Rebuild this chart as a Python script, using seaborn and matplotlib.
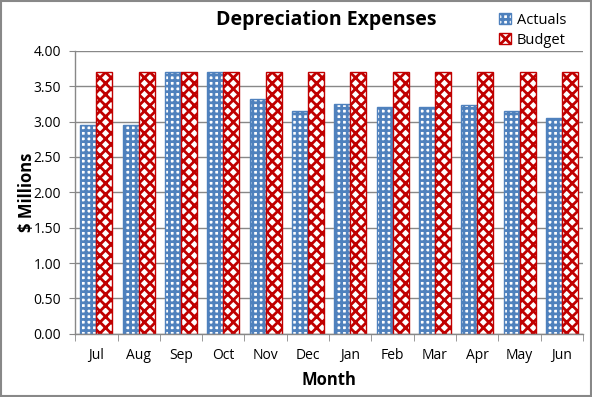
import pandas as pd
import matplotlib
matplotlib.use('Agg')
import matplotlib.pyplot as plt
import seaborn as sns
from matplotlib.patches import Patch

# Data
months = ['Jul', 'Aug', 'Sep', 'Oct', 'Nov', 'Dec', 'Jan', 'Feb', 'Mar', 'Apr', 'May', 'Jun']
actuals = [2.95, 2.95, 3.70, 3.70, 3.32, 3.15, 3.25, 3.21, 3.21, 3.23, 3.15, 3.05]
budget = [3.70] * 12

df = pd.DataFrame({
    'Month': months * 2,
    'Value': actuals + budget,
    'Series': ['Actuals'] * 12 + ['Budget'] * 12,
})

sns.set_style('white')
plt.rcParams['font.family'] = ['Open Sans', 'DejaVu Sans']
plt.rcParams['hatch.linewidth'] = 2.0
plt.rcParams['text.color'] = 'black'
plt.rcParams['axes.labelcolor'] = 'black'

blue = '#4F81BD'
red = '#C00000'

fig = plt.figure(figsize=(5.92, 3.97), dpi=100)
ax = fig.add_axes([0.127, 0.159, 0.858, 0.713])

sns.barplot(data=df, x='Month', y='Value', hue='Series', order=months,
            palette={'Actuals': 'white', 'Budget': 'white'},
            width=0.76, gap=0, legend=False, ax=ax)

# style bars: first 12 are Actuals, next 12 Budget
for i, bar in enumerate(ax.patches[:24]):
    if i < 12:
        bar.set_hatch('+++')
        bar.set_edgecolor(blue)
    else:
        bar.set_hatch('xxx')
        bar.set_edgecolor(red)
    bar.set_linewidth(1.0)

ax.set_ylim(0, 4.0)
ax.set_xlim(-0.5, 11.5)
ax.set_yticks([i * 0.5 for i in range(9)])
ax.set_yticklabels([f'{i * 0.5:.2f}' for i in range(9)], fontsize=10)
ax.set_xticks(range(12))
ax.set_xticklabels(months, fontsize=10)
ax.tick_params(axis='x', length=0, pad=10, labelcolor='black')
ax.tick_params(axis='y', length=4, color='#888888', left=True, pad=6, labelcolor='black')
# tick marks between categories
ax.set_xticks([i - 0.5 for i in range(13)], minor=True)
ax.tick_params(axis='x', which='minor', length=5, color='#888888', bottom=True)

ax.yaxis.grid(True, color='#888888', linewidth=1.0)
ax.set_axisbelow(True)
for s in ['top', 'right']:
    ax.spines[s].set_visible(False)
for s in ['left', 'bottom']:
    ax.spines[s].set_color('#888888')
    ax.spines[s].set_linewidth(1.0)

ax.set_xlabel('Month', fontsize=12, fontweight='bold', labelpad=6)
ax.set_ylabel('$ Millions', fontsize=12, fontweight='bold', labelpad=-2)

fig.text(0.551, 0.95, 'Depreciation Expenses', ha='center', va='center',
         fontsize=14, fontweight='bold')

handles = [Patch(facecolor='white', edgecolor=blue, hatch='+++', label='Actuals'),
           Patch(facecolor='white', edgecolor=red, hatch='xxx', label='Budget')]
fig.legend(handles=handles, loc='center', bbox_to_anchor=(0.9, 0.924),
           frameon=False, fontsize=10.5, handlelength=0.8, handleheight=0.8,
           handletextpad=0.4, labelspacing=0.35)

# outer border
fig.patches.append(plt.Rectangle((0.002, 0.003), 0.996, 0.994, transform=fig.transFigure,
                                 fill=False, edgecolor='#888888', linewidth=1.5))

fig.savefig('out.png', dpi=100)
